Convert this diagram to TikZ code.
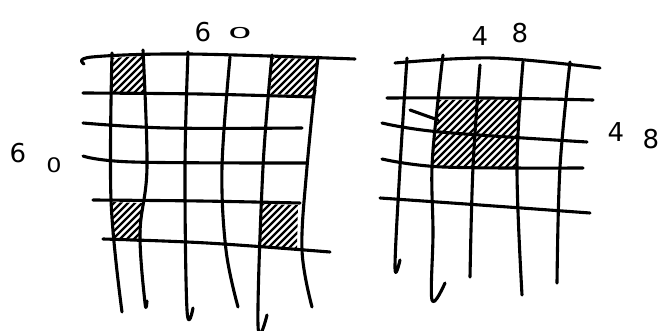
\documentclass[tikz,border=0pt]{standalone}
\usepackage{fontspec}
\setmainfont{DejaVu Sans}
\begin{document}
\begin{tikzpicture}[x=1pt,y=-1pt,
  pen/.style={line width=3.1pt,line cap=round,line join=round,black},
  hatchline/.style={line width=2.2pt,line cap=round,black},
  big/.style={font=\fontsize{26}{28}\selectfont,inner sep=0pt},
  small/.style={font=\fontsize{20}{22}\selectfont,inner sep=0pt}]
\useasboundingbox (0,0) rectangle (669,331);
\fill[white] (0,0) rectangle (669,331);

% ---------- hatched cells (left grid) ----------
\begin{scope}
  \clip (112,58) -- (143,56) -- (145,94) -- (112,92) -- cycle;
  \foreach \k in {-60,-53,...,60} \draw[hatchline,shift={(128,75)}] (\k-40,40) -- (\k+40,-40);
\end{scope}
\begin{scope}
  \clip (272,58) -- (318,59) -- (316,96) -- (270,94) -- cycle;
  \foreach \k in {-60,-53,...,60} \draw[hatchline,shift={(294,76)}] (\k-40,40) -- (\k+40,-40);
\end{scope}
\begin{scope}
  \clip (111,202) -- (142,203) -- (141,242) -- (112,240) -- cycle;
  \foreach \k in {-60,-53,...,60} \draw[hatchline,shift={(127,222)}] (\k-40,40) -- (\k+40,-40);
\end{scope}
\begin{scope}
  \clip (262,204) -- (298,205) -- (297,248) -- (260,246) -- cycle;
  \foreach \k in {-60,-53,...,60} \draw[hatchline,shift={(280,226)}] (\k-40,40) -- (\k+40,-40);
\end{scope}

% ---------- hatched block (right grid) ----------
\begin{scope}
  \clip (438,100) -- (519,99) -- (517,167) -- (432,167) -- cycle;
  \foreach \k in {-90,-83,...,90} \draw[hatchline,shift={(476,133)}] (\k-60,60) -- (\k+60,-60);
\end{scope}

% ---------- left grid: horizontals ----------
\draw[pen] plot[smooth,tension=0.6] coordinates {(84,64) (92,57) (188,54) (355,59)};
\draw[pen] plot[smooth,tension=0.6] coordinates {(83,93) (200,94) (313,97)};
\draw[pen] plot[smooth,tension=0.6] coordinates {(83,123) (167,128) (302,128)};
\draw[pen] plot[smooth,tension=0.6] coordinates {(83,156) (133,162) (307,163)};
\draw[pen] plot[smooth,tension=0.6] coordinates {(93,200) (200,201) (300,203)};
\draw[pen] plot[smooth,tension=0.6] coordinates {(103,239) (207,243) (330,252)};

% ---------- left grid: verticals ----------
\draw[pen] plot[smooth,tension=0.6] coordinates {(112,53) (111,200) (122,312)};
\draw[pen] plot[smooth,tension=0.6] coordinates {(143,50) (147,167) (140,233) (145,303) (147,301)};
\draw[pen] plot[smooth,tension=0.6] coordinates {(188,52) (185,167) (187,310) (193,308)};
\draw[pen] plot[smooth,tension=0.6] coordinates {(230,57) (222,167) (226,250) (238,307)};
\draw[pen] plot[smooth,tension=0.6] coordinates {(272,55) (263,167) (258,325) (267,315)};
\draw[pen] plot[smooth,tension=0.6] coordinates {(318,57) (307,167) (302,250) (312,307)};

% ---------- right grid: horizontals ----------
\draw[pen] plot[smooth,tension=0.6] coordinates {(395,63) (493,58) (600,68)};
\draw[pen] plot[smooth,tension=0.6] coordinates {(387,98) (490,98) (593,100)};
\draw[pen] plot[smooth,tension=0.6] coordinates {(382,123) (440,132) (587,142)};
\draw[pen] plot[smooth,tension=0.6] coordinates {(382,159) (443,167) (583,168)};
\draw[pen] plot[smooth,tension=0.6] coordinates {(380,198) (480,205) (590,213)};
\draw[pen] (410,110) -- (438,120);

% ---------- right grid: verticals ----------
\draw[pen] plot[smooth,tension=0.6] coordinates {(407,58) (400,167) (395,267) (400,260)};
\draw[pen] plot[smooth,tension=0.6] coordinates {(443,55) (438,100) (432,167) (433,233) (432,300) (445,283)};
\draw[pen] plot[smooth,tension=0.6] coordinates {(480,65) (473,167) (470,277)};
\draw[pen] plot[smooth,tension=0.6] coordinates {(523,62) (517,167) (522,295)};
\draw[pen] plot[smooth,tension=0.6] coordinates {(570,62) (560,167) (557,283)};

% ---------- labels ----------
\node[big] (ltopA) at (203,32) {6};
\node[small,xscale=1.9,yscale=0.75] (ltopB) at (240,33) {0};
\node[big] (lsideA) at (18,153) {6};
\node[small,xscale=1.2] (lsideB) at (54,165) {0};
\node[big] (rtopA) at (480,36) {4};
\node[big] (rtopB) at (520,33) {8};
\node[big] (rsideA) at (616,132) {4};
\node[big] (rsideB) at (651,139) {8};
\end{tikzpicture}
\end{document}
